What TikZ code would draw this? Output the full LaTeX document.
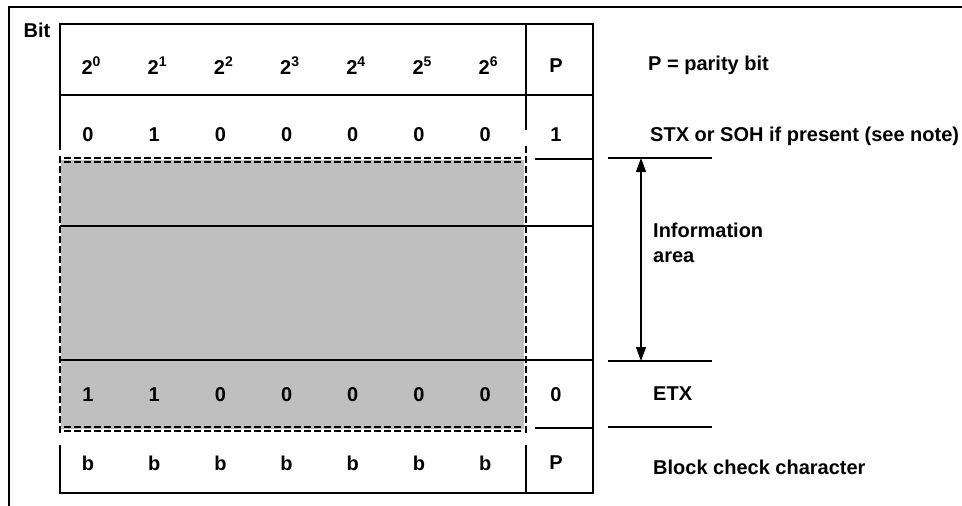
\documentclass[tikz,border=0pt]{standalone}
\usepackage{fontspec}
\setmainfont{Liberation Sans}
\usetikzlibrary{arrows.meta,positioning}

\begin{document}
\begin{tikzpicture}[x=1pt,y=-1pt,
every node/.style={font=\fontsize{20}{25}\selectfont\bfseries,inner sep=0pt},
rule/.style={line width=1.3pt},
dashrule/.style={line width=1.3pt,dash pattern=on 7pt off 3pt},
note/.style={anchor=west,align=left}]
\useasboundingbox (0,0) rectangle (962,506);
% outer frame
\draw[line width=2pt] (9,506) -- (9,7) -- (962,7);
% shaded information part
\fill[black!25] (61,160) rectangle (524,429);
% table
\draw[rule] (60,150) -- (60,24) -- (593,24) -- (593,493) -- (60,493) -- (60,445);
\draw[rule] (60,95) -- (593,95);
\draw[rule] (60,226) -- (593,226);
\draw[rule] (60,360) -- (593,360);
\draw[rule] (526,24) -- (526,130);
\draw[rule] (526,445) -- (526,493);
\draw[rule] (535,159) -- (593,159);
\draw[rule] (535,428) -- (593,428);
\draw[dashrule] (60,156) -- (60,435);
\draw[dashrule] (526,146) -- (526,435);
\draw[dashrule] (64,158) -- (522,158);
\draw[dashrule] (64,162) -- (522,162);
\draw[dashrule] (64,427) -- (522,427);
\draw[dashrule] (64,431) -- (522,431);

\node (bit) at (37,30) {Bit};
\foreach \i in {0,...,6}
  \node (h\i) at (91+66.2*\i,66) {2\raisebox{8pt}{\fontsize{14}{16}\selectfont\bfseries\i}};
\node (hp) at (556,66) {P};
\foreach \v [count=\i from 0] in {0,1,0,0,0,0,0}
  \node (s\i) at (88+66.2*\i,135) {\v};
\node (sp) at (556,135) {1};
\foreach \v [count=\i from 0] in {1,1,0,0,0,0,0}
  \node (e\i) at (88+66.2*\i,395) {\v};
\node (ep) at (556,395) {0};
\foreach \i in {0,...,6}
  \node (b\i) at (88+66.2*\i,463) {b};
\node (bp) at (556,463) {P};

% notes on the right
\draw[rule] (608,158) -- (712,158);
\draw[rule] (608,361) -- (712,361);
\draw[rule] (608,427) -- (712,427);
\coordinate (infotop) at (641,158);
\coordinate (infobot) at (641,361);
\draw[rule,{Triangle[length=14pt,width=10pt]}-{Triangle[length=14pt,width=10pt]}] (infotop) -- (infobot);
\node[note] (parity) at (648,65) {P = parity bit};
\node[note] (stx) at (650,136) {STX or SOH if present (see note)};
\node[note] (info) at (653,243) {Information\\area};
\node[note] (etx) at (653,394) {ETX};
\node[note] (bcc) at (653,467) {Block check character};
\end{tikzpicture}
\end{document}
